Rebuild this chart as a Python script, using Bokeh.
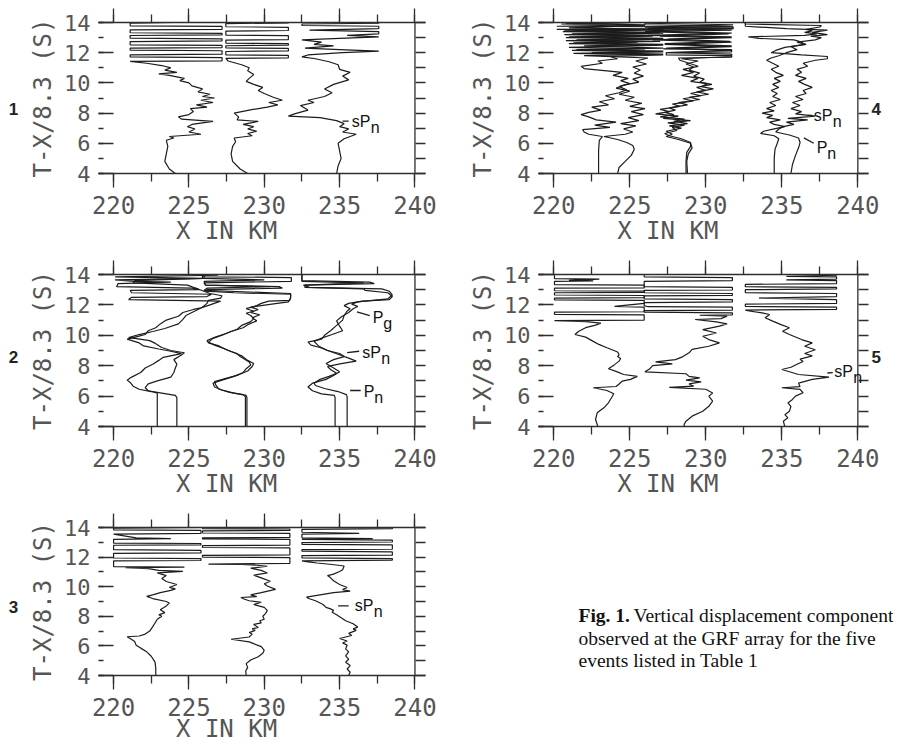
from bokeh.plotting import figure
from bokeh.models import Range1d, LinearAxis, SingleIntervalTicker, FixedTicker, Span, Label
from bokeh.layouts import row, column
from bokeh.embed import file_html
from bokeh.resources import INLINE

# ---------------- data: (time T-X/8.3 in s, position X in km) ----------------
X_TICKS = [220, 225, 230, 235, 240]
Y_TICKS = [4, 6, 8, 10, 12, 14]
PANEL_NUMBERS = ["1", "2", "3", "4", "5"]
PANEL_NUMBER_T = [8.3, 8.55, 8.6, 8.25, 8.6]

P1_A = [(4.0,224.1),(4.3,223.7),(4.8,223.4),(5.3,223.5),(5.8,223.6),(6.2,223.5),(6.35,224.0),(6.45,223.7),(6.6,225.8),(6.75,225.0),(6.95,225.4),(7.1,224.9),(7.25,225.2),(7.45,226.6),(7.6,224.5),(7.75,224.3),(7.9,225.0),(8.1,225.3),(8.3,225.1),(8.4,226.2),(8.55,225.5),(8.7,226.6),(8.85,225.8),(9.0,226.7),(9.1,225.9),(9.25,226.4),(9.4,225.6),(9.6,225.9),(9.8,225.2),(10.0,225.0),(10.15,224.4),(10.3,224.7),(10.5,223.7),(10.6,223.0),(10.7,224.2),(10.85,223.4),(11.0,223.8),(11.15,223.2),(11.3,222.2),(11.42,221.1),(11.46,227.2),(11.68,227.2),(11.72,221.1),(11.86,221.1),(11.9,227.2),(12.13,227.2),(12.17,221.1),(12.3,221.1),(12.34,227.2),(12.48,227.2),(12.52,221.1),(12.74,221.1),(12.78,227.2),(12.92,227.2),(12.96,221.1),(13.14,221.1),(13.18,227.2),(13.28,227.2),(13.32,221.1),(13.51,221.1),(13.55,227.2),(13.74,227.2),(13.78,221.1),(13.96,221.1),(14.0,224.0)]
P1_B = [(4.0,228.9),(4.3,228.4),(4.8,227.9),(5.3,227.8),(5.8,227.9),(6.1,228.1),(6.35,228.0),(6.5,229.2),(6.65,228.9),(6.8,229.5),(6.95,228.9),(7.1,229.3),(7.25,228.6),(7.45,229.6),(7.55,228.2),(7.75,228.3),(8.0,228.0),(8.2,229.0),(8.4,230.2),(8.55,230.9),(8.7,230.3),(8.85,231.2),(9.05,230.6),(9.3,230.0),(9.5,229.6),(9.7,229.9),(9.9,229.3),(10.1,228.8),(10.3,229.0),(10.55,229.3),(10.8,228.9),(11.0,229.0),(11.2,228.5),(11.45,227.6),(11.62,227.45),(11.66,231.6),(11.82,231.6),(11.86,227.45),(12.08,227.45),(12.12,231.6),(12.28,231.6),(12.32,227.45),(12.46,227.45),(12.5,231.6),(12.6,231.6),(12.64,227.45),(12.83,227.45),(12.87,231.6),(13.13,231.6),(13.17,227.45),(13.43,227.45),(13.47,231.6),(13.68,231.6),(13.72,227.45),(13.93,227.45),(13.97,231.6),(14.0,231.6)]
P1_C = [(4.0,234.8),(4.5,234.9),(5.0,235.1),(5.5,235.0),(6.0,234.9),(6.3,235.3),(6.6,236.1),(6.75,235.2),(6.95,235.6),(7.1,235.0),(7.3,235.3),(7.5,234.8),(7.7,233.7),(7.8,231.6),(7.95,232.0),(8.2,232.9),(8.5,232.4),(8.7,233.3),(8.85,232.9),(9.1,234.0),(9.35,234.5),(9.6,234.0),(9.9,234.6),(10.2,235.6),(10.45,235.2),(10.7,235.7),(10.9,235.0),(11.2,234.9),(11.4,234.3),(11.6,233.4),(11.72,232.5),(11.85,232.9),(12.0,235.2),(12.1,237.6),(12.2,235.0),(12.3,232.7),(12.45,234.6),(12.55,233.3),(12.7,233.8),(12.85,232.5),(12.95,235.0),(13.05,237.6),(13.15,235.5),(13.25,237.6),(13.4,237.6),(13.5,233.0),(13.6,237.6),(13.75,237.6),(13.8,232.5),(13.9,232.5),(13.95,237.6),(14.0,237.6)]

P2_A1 = [(4.0,222.9),(6.2,222.9),(6.3,222.5),(6.45,221.7),(6.65,221.3),(6.9,221.1),(7.05,220.9),(7.25,221.2),(7.55,221.8),(7.85,222.1),(8.1,222.6),(8.35,223.0),(8.55,223.3),(8.8,224.5),(8.95,223.8),(9.1,223.0),(9.3,222.0),(9.5,221.7),(9.75,220.9),(9.9,221.5),(10.05,222.1),(10.3,222.3),(10.5,222.8),(10.75,223.1),(11.0,223.5),(11.25,224.3),(11.5,224.6),(11.7,225.3),(11.8,225.8),(12.0,226.4),(12.25,227.1),(12.35,221.0),(12.5,221.2),(12.55,226.2),(12.7,226.5),(12.8,221.2),(12.95,221.1),(13.0,225.7),(13.1,225.2),(13.2,220.2),(13.4,220.3),(13.5,223.8),(13.55,221.4),(13.65,220.1),(13.75,226.0),(13.85,220.1),(13.95,226.9),(14.0,226.9)]
P2_A2 = [(4.0,224.2),(5.9,224.2),(6.05,224.1),(6.2,223.2),(6.35,222.3),(6.55,222.1),(6.8,222.3),(7.0,222.9),(7.25,223.8),(7.55,224.0),(7.85,224.1),(8.1,224.2),(8.4,224.0),(8.7,224.5),(8.85,224.7),(9.0,223.8),(9.2,223.2),(9.45,222.8),(9.65,222.4),(9.8,221.4),(9.85,221.0),(10.05,221.7),(10.25,222.6),(10.45,223.4),(10.75,224.3),(11.05,224.6),(11.3,224.8),(11.6,225.4),(11.85,225.9),(12.1,226.2),(12.3,226.3),(12.45,227.1),(12.6,227.2),(12.75,226.4),(12.9,226.0),(13.05,225.6),(13.15,225.3),(13.3,224.9),(13.45,221.3),(13.6,221.4),(13.75,225.9),(13.9,225.9),(14.0,225.9)]
P2_B1 = [(4.0,228.85),(5.9,228.85),(6.05,228.8),(6.2,228.0),(6.4,227.2),(6.6,226.7),(6.85,226.6),(7.05,227.2),(7.3,228.0),(7.55,228.6),(7.8,228.8),(8.05,229.1),(8.25,229.0),(8.6,228.4),(8.8,228.2),(9.0,227.6),(9.3,227.0),(9.5,226.3),(9.65,226.2),(9.9,226.8),(10.1,227.4),(10.4,228.2),(10.65,228.5),(10.9,229.1),(11.1,229.3),(11.3,229.1),(11.45,228.8),(11.6,229.3),(11.75,228.8),(11.95,229.5),(12.1,229.8),(12.25,230.3),(12.3,231.7),(12.55,231.75),(12.75,231.75),(12.85,229.0),(12.95,226.0),(13.1,226.2),(13.2,230.4),(13.3,226.1),(13.45,226.0),(13.55,231.8),(13.8,231.8),(13.85,226.0),(14.0,226.0)]
P2_B2 = [(4.0,228.75),(5.95,228.75),(6.1,228.6),(6.25,227.7),(6.45,227.0),(6.7,226.8),(6.95,226.7),(7.15,227.4),(7.4,228.3),(7.65,228.9),(7.95,229.2),(8.15,229.3),(8.35,228.9),(8.65,228.5),(8.85,228.0),(9.1,227.4),(9.35,226.7),(9.55,226.3),(9.8,226.6),(10.0,227.2),(10.25,227.8),(10.5,228.6),(10.7,228.9),(10.95,229.5),(11.15,229.2),(11.35,229.7),(11.5,229.1),(11.7,229.6),(11.85,229.1),(12.05,230.5),(12.2,231.6),(12.45,231.75),(12.7,231.75),(12.8,228.0),(12.9,226.1),(13.0,226.2),(13.1,231.2),(13.2,231.0),(13.3,226.1),(13.55,226.0),(13.65,230.0),(13.75,226.0),(14.0,226.0)]
P2_C1 = [(4.0,234.7),(5.9,234.7),(6.05,234.65),(6.15,233.8),(6.35,233.2),(6.6,232.9),(6.85,233.2),(7.1,234.1),(7.35,234.6),(7.6,235.0),(7.85,234.6),(8.15,234.1),(8.4,234.6),(8.6,235.3),(8.8,235.0),(9.0,234.2),(9.2,233.7),(9.35,233.1),(9.55,232.9),(9.75,233.8),(10.0,234.0),(10.3,234.4),(10.65,234.8),(11.0,235.2),(11.3,235.3),(11.6,235.5),(11.75,235.7),(11.95,235.3),(12.1,235.6),(12.25,236.5),(12.35,238.3),(12.55,238.5),(12.8,238.2),(12.95,236.7),(13.05,236.6),(13.15,232.7),(13.3,232.7),(13.45,236.6),(13.55,232.5),(14.0,232.5)]
P2_C2 = [(4.0,235.5),(5.95,235.5),(6.1,235.45),(6.3,234.9),(6.5,234.0),(6.7,233.4),(6.85,233.3),(7.1,233.7),(7.3,234.3),(7.5,234.8),(7.75,234.4),(7.95,234.2),(8.15,235.2),(8.3,236.1),(8.5,235.6),(8.75,234.9),(9.0,234.2),(9.3,233.6),(9.6,233.3),(9.85,233.9),(10.05,234.5),(10.3,235.2),(10.6,235.0),(10.95,234.8),(11.2,235.1),(11.5,235.6),(11.75,235.9),(11.9,236.2),(12.05,235.8),(12.2,236.2),(12.4,238.2),(12.65,238.5),(12.9,238.3),(13.05,237.8),(13.15,233.0),(13.3,232.6),(13.4,237.3),(13.5,237.0),(13.6,232.5),(14.0,232.5)]

P3_A = [(4.0,222.8),(4.5,222.8),(4.9,222.75),(5.3,222.5),(5.6,222.2),(5.85,221.8),(6.05,221.5),(6.3,221.4),(6.5,221.1),(6.62,220.9),(6.67,221.7),(6.8,222.1),(7.0,222.4),(7.3,222.6),(7.55,222.75),(7.8,222.9),(8.0,223.2),(8.1,223.0),(8.25,223.4),(8.45,223.1),(8.7,223.5),(8.9,223.7),(9.0,223.5),(9.2,222.6),(9.35,222.2),(9.45,222.6),(9.6,223.1),(9.75,223.8),(9.85,224.1),(9.95,223.7),(10.15,224.2),(10.35,223.5),(10.55,223.2),(10.75,223.5),(10.93,222.9),(11.03,224.6),(11.1,223.0),(11.22,222.3),(11.28,220.8),(11.32,224.7),(11.36,220.0),(11.74,220.0),(11.77,225.8),(11.9,225.8),(11.94,220.0),(12.25,220.0),(12.28,225.8),(12.46,225.8),(12.5,220.0),(12.8,220.0),(12.83,225.8),(12.92,225.8),(12.95,220.0),(13.2,220.0),(13.25,223.8),(13.3,221.5),(13.55,220.0),(13.6,225.8),(13.8,225.8),(13.84,220.0),(13.96,220.0),(14.0,225.8)]
P3_B = [(4.0,228.8),(4.3,228.77),(4.55,228.9),(4.8,228.8),(5.05,229.1),(5.27,229.6),(5.5,229.9),(5.7,230.0),(5.95,229.8),(6.15,229.3),(6.27,229.0),(6.45,227.8),(6.6,229.0),(6.8,229.2),(6.9,229.0),(7.05,229.4),(7.15,229.2),(7.25,229.6),(7.45,229.3),(7.55,229.8),(7.7,229.7),(7.8,230.0),(8.0,229.9),(8.2,230.1),(8.4,230.2),(8.6,230.0),(8.8,229.3),(8.95,229.8),(9.05,229.0),(9.15,228.7),(9.27,228.45),(9.33,229.5),(9.45,229.1),(9.6,229.8),(9.82,230.75),(10.05,230.2),(10.2,230.0),(10.37,230.4),(10.6,229.8),(10.78,229.3),(10.93,230.2),(11.1,229.8),(11.25,229.1),(11.38,230.2),(11.45,229.5),(11.5,228.5),(11.53,226.3),(11.57,231.7),(11.97,231.7),(12.0,225.9),(12.12,225.9),(12.15,231.7),(12.62,231.7),(12.65,225.9),(12.78,225.9),(12.81,231.7),(13.2,231.7),(13.23,225.9),(13.3,225.9),(13.33,231.7),(13.6,231.7),(13.63,225.9),(13.77,225.9),(13.8,231.7),(13.9,231.7),(13.93,225.9),(14.0,225.9)]
P3_C = [(4.0,235.6),(4.22,235.7),(4.44,235.5),(4.67,235.7),(4.9,235.4),(5.1,235.6),(5.33,235.4),(5.6,235.6),(5.8,235.4),(6.05,235.5),(6.2,235.2),(6.33,235.5),(6.5,235.0),(6.7,235.8),(6.85,235.6),(7.05,236.1),(7.15,235.9),(7.27,236.2),(7.5,235.9),(7.7,235.4),(7.9,235.1),(8.1,234.8),(8.27,234.5),(8.4,234.6),(8.5,234.4),(8.6,234.1),(8.8,233.9),(9.05,233.4),(9.2,232.95),(9.3,232.8),(9.45,233.7),(9.6,234.6),(9.7,235.7),(9.8,235.2),(9.95,235.5),(10.15,235.0),(10.4,234.6),(10.6,234.4),(10.75,234.2),(10.85,234.6),(11.03,235.0),(11.15,235.2),(11.4,235.3),(11.5,234.5),(11.6,233.5),(11.7,232.8),(11.75,232.5),(11.8,238.5),(11.9,238.5),(11.95,232.5),(12.1,232.5),(12.13,238.5),(12.35,238.5),(12.4,232.5),(12.5,232.5),(12.53,238.5),(12.82,238.5),(12.86,232.5),(12.98,232.5),(13.02,238.5),(13.15,238.5),(13.2,232.5),(13.25,237.2),(13.3,232.5),(13.55,232.5),(13.6,236.3),(13.68,232.5),(13.88,232.5),(13.92,238.5),(14.0,238.5)]

P4_A1 = [(4.0,222.95),(5.5,222.95),(6.2,223.0),(6.45,223.2),(6.6,222.3),(6.75,222.0),(6.9,221.9),(7.05,223.7),(7.2,222.7),(7.4,224.1),(7.55,222.8),(7.75,222.3),(7.9,221.8),(8.05,222.3),(8.2,223.1),(8.4,222.5),(8.55,223.6),(8.75,223.0),(8.95,224.0),(9.15,223.4),(9.35,224.3),(9.55,224.8),(9.75,224.3),(9.95,225.0),(10.15,224.4),(10.3,224.9),(10.5,223.9),(10.7,224.5),(10.85,223.0),(10.95,222.0),(11.1,221.8),(11.3,223.2),(11.45,222.9),(11.6,224.2),(11.75,223.7),(11.85,227.2),(11.95,221.3),(12.05,227.2),(12.15,221.2),(12.25,226.0),(12.35,221.0),(12.5,227.2),(12.6,221.0),(12.7,225.5),(12.8,220.8),(12.9,227.2),(13.0,220.8),(13.1,226.5),(13.2,220.7),(13.3,227.2),(13.4,220.6),(13.5,226.0),(13.55,220.2),(13.6,231.8),(13.7,231.8),(13.75,220.2),(13.85,226.0),(13.95,220.8),(14.0,225.0)]
P4_A2 = [(4.0,224.2),(4.4,224.3),(4.8,224.7),(5.2,225.1),(5.6,225.3),(5.85,225.2),(6.05,224.8),(6.25,224.2),(6.45,223.3),(6.6,224.7),(6.75,225.2),(6.95,224.6),(7.15,225.4),(7.3,224.4),(7.5,225.6),(7.7,224.9),(7.9,225.9),(8.1,225.1),(8.3,226.0),(8.45,225.0),(8.65,225.8),(8.85,224.7),(9.05,225.3),(9.25,224.3),(9.45,225.0),(9.65,224.1),(9.85,224.6),(10.05,225.6),(10.25,225.2),(10.45,225.9),(10.65,225.3),(10.85,225.7),(11.05,225.2),(11.25,226.1),(11.45,225.4),(11.65,226.2),(11.8,222.0),(11.9,227.2),(12.0,222.5),(12.1,227.2),(12.2,221.5),(12.3,227.2),(12.45,222.0),(12.55,227.2),(12.65,221.3),(12.75,227.0),(12.85,221.5),(12.95,227.2),(13.05,221.0),(13.15,227.0),(13.25,221.2),(13.35,227.0),(13.45,220.7),(13.55,227.2),(13.65,221.0),(13.8,226.0),(13.9,220.5),(14.0,226.0)]
P4_B1 = [(4.0,228.7),(4.8,228.7),(5.4,228.75),(5.8,229.0),(6.05,229.0),(6.3,228.4),(6.5,227.6),(6.65,227.3),(6.85,228.1),(7.05,227.8),(7.2,228.6),(7.35,227.5),(7.5,229.0),(7.65,227.2),(7.8,228.2),(7.95,226.7),(8.1,227.6),(8.25,227.0),(8.45,228.3),(8.6,227.8),(8.8,229.2),(8.95,228.5),(9.15,229.7),(9.3,229.0),(9.5,230.0),(9.7,229.4),(9.9,230.4),(10.05,229.6),(10.25,229.9),(10.45,229.2),(10.65,229.6),(10.85,228.9),(11.05,229.2),(11.25,228.7),(11.45,229.5),(11.6,228.4),(11.75,231.7),(11.9,231.7),(12.0,227.5),(12.15,231.7),(12.3,227.4),(12.45,231.7),(12.6,227.3),(12.75,231.6),(12.9,227.5),(13.05,231.7),(13.15,226.2),(13.3,231.7),(13.45,226.0),(13.6,231.8),(13.7,226.0),(13.85,231.8),(13.95,226.0),(14.0,229.0)]
P4_B2 = [(4.0,228.8),(4.8,228.75),(5.3,228.85),(5.7,229.1),(6.0,229.0),(6.25,228.2),(6.45,227.4),(6.6,227.8),(6.8,227.4),(7.0,228.4),(7.15,227.6),(7.3,228.8),(7.45,227.9),(7.6,228.6),(7.75,227.0),(7.9,227.9),(8.05,227.3),(8.2,228.0),(8.35,227.6),(8.55,228.8),(8.7,228.2),(8.9,229.6),(9.05,228.9),(9.25,230.2),(9.4,229.4),(9.6,230.5),(9.75,229.7),(9.95,230.1),(10.1,229.0),(10.3,229.5),(10.5,228.4),(10.7,229.2),(10.9,228.5),(11.1,229.5),(11.3,228.9),(11.5,228.3),(11.65,228.2),(11.7,231.7),(11.8,231.7),(11.85,227.4),(12.0,227.4),(12.05,231.7),(12.2,231.7),(12.25,227.2),(12.4,231.7),(12.55,227.3),(12.7,231.7),(12.85,226.5),(13.0,231.7),(13.1,227.0),(13.25,231.5),(13.4,226.0),(13.5,231.7),(13.6,226.2),(13.75,231.8),(13.85,226.0),(14.0,226.0)]
P4_C1 = [(4.0,234.5),(5.0,234.5),(5.6,234.55),(6.0,234.7),(6.3,234.8),(6.5,234.5),(6.65,233.6),(6.8,233.8),(6.95,234.5),(7.1,235.2),(7.25,234.5),(7.4,234.2),(7.55,234.9),(7.7,234.0),(7.85,234.4),(8.0,233.7),(8.15,234.5),(8.3,234.0),(8.5,234.6),(8.7,234.2),(8.9,234.9),(9.1,234.4),(9.3,234.7),(9.5,234.3),(9.7,234.8),(9.9,234.4),(10.1,234.9),(10.3,234.5),(10.5,235.1),(10.7,234.6),(10.9,234.3),(11.1,234.8),(11.3,234.4),(11.5,234.0),(11.65,234.3),(11.8,234.8),(12.0,235.3),(12.2,236.0),(12.4,235.6),(12.55,236.5),(12.7,236.3),(12.85,235.8),(12.95,233.5),(13.05,232.8),(13.15,236.5),(13.25,237.3),(13.35,236.5),(13.45,237.0),(13.55,236.6),(13.7,237.5),(13.8,237.6),(13.9,232.6),(14.0,232.6)]
P4_C2 = [(4.0,235.6),(4.6,235.7),(5.2,235.9),(5.7,236.1),(6.05,236.2),(6.35,236.1),(6.55,235.5),(6.75,234.6),(6.95,234.8),(7.1,235.1),(7.25,235.8),(7.4,235.3),(7.55,236.7),(7.65,235.4),(7.8,237.2),(7.95,235.9),(8.1,236.3),(8.3,235.6),(8.5,236.2),(8.7,235.7),(8.9,236.4),(9.1,235.9),(9.3,236.6),(9.5,236.4),(9.7,237.0),(9.9,236.5),(10.1,236.1),(10.3,236.6),(10.5,235.9),(10.7,236.3),(10.9,236.0),(11.1,236.7),(11.3,236.4),(11.5,237.2),(11.6,238.0),(11.75,238.0),(11.85,236.3),(12.0,234.3),(12.15,234.6),(12.35,235.2),(12.55,236.6),(12.7,236.0),(12.85,237.2),(13.0,237.6),(13.1,236.9),(13.2,238.0),(13.35,237.0),(13.5,238.0),(13.6,235.3),(13.7,233.5),(13.75,232.6),(14.0,232.6)]

P5_A = [(4.0,222.9),(4.13,222.86),(4.46,222.75),(4.9,222.86),(5.23,223.3),(5.56,223.6),(5.89,223.8),(6.15,223.95),(6.37,223.5),(6.55,222.6),(6.63,224.1),(6.8,224.3),(6.98,224.5),(7.1,225.05),(7.3,225.5),(7.42,224.6),(7.63,224.1),(7.8,223.6),(8.07,224.0),(8.3,224.3),(8.47,224.4),(8.6,224.2),(8.73,224.3),(8.9,224.2),(9.18,223.5),(9.4,222.97),(9.6,222.6),(9.88,222.1),(10.05,221.4),(10.27,221.65),(10.5,222.1),(10.67,222.75),(10.8,223.1),(10.9,222.1),(10.97,220.05),(11.0,225.95),(11.35,225.95),(11.38,220.05),(11.52,220.05),(11.55,225.95),(11.85,225.95),(11.9,224.0),(12.1,225.95),(12.3,225.95),(12.33,220.05),(12.45,220.05),(12.48,225.95),(12.62,225.95),(12.65,220.05),(12.8,220.05),(12.83,225.95),(12.9,225.95),(12.93,220.05),(13.1,220.05),(13.12,225.95),(13.3,225.95),(13.33,220.05),(13.55,220.05),(13.58,222.6),(13.62,221.0),(13.7,223.0),(13.73,220.05),(14.0,220.05)]
P5_B = [(4.0,228.6),(4.13,228.57),(4.35,228.7),(4.68,229.1),(5.0,229.8),(5.33,230.2),(5.67,230.45),(6.0,230.2),(6.2,230.45),(6.45,230.0),(6.58,227.6),(6.65,229.2),(6.8,228.9),(6.94,229.7),(7.05,228.7),(7.2,229.6),(7.3,228.9),(7.47,228.7),(7.6,226.0),(7.78,226.3),(8.0,226.5),(8.12,227.8),(8.25,226.7),(8.4,228.0),(8.6,228.5),(8.85,228.9),(9.07,229.1),(9.28,230.2),(9.5,230.9),(9.72,230.2),(9.94,229.8),(10.15,230.7),(10.37,229.8),(10.6,230.9),(10.75,231.4),(10.88,230.7),(11.04,229.3),(11.1,231.0),(11.26,231.4),(11.32,229.6),(11.35,231.75),(11.48,231.75),(11.52,225.95),(11.62,225.95),(11.66,231.75),(11.85,231.75),(11.88,226.2),(11.95,225.95),(12.15,225.95),(12.2,231.75),(12.35,231.75),(12.4,225.95),(12.6,225.95),(12.63,231.75),(12.75,231.75),(12.8,225.95),(12.95,225.95),(12.98,231.75),(13.15,231.75),(13.2,225.95),(13.55,225.95),(13.6,231.75),(13.8,231.75),(13.85,225.95),(14.0,225.95)]
P5_C = [(4.0,235.2),(4.13,235.16),(4.35,235.1),(4.57,235.4),(4.78,235.2),(5.0,235.5),(5.33,235.6),(5.55,235.4),(5.78,235.7),(6.0,235.9),(6.22,236.4),(6.44,236.2),(6.55,235.0),(6.62,236.2),(6.85,236.1),(7.1,237.0),(7.25,238.1),(7.42,236.1),(7.6,235.5),(7.75,235.0),(7.9,235.6),(8.1,236.0),(8.28,236.4),(8.43,236.2),(8.65,237.0),(8.8,236.5),(9.05,237.2),(9.28,236.5),(9.5,237.0),(9.72,236.3),(10.05,235.5),(10.27,235.05),(10.5,235.5),(10.7,234.95),(10.93,234.4),(11.15,233.9),(11.37,234.2),(11.48,233.7),(11.6,232.85),(11.66,232.6),(11.7,238.6),(11.85,238.6),(11.9,232.6),(12.05,232.6),(12.1,238.6),(12.35,238.6),(12.45,233.5),(12.55,238.6),(12.75,238.6),(12.8,232.6),(13.0,232.6),(13.05,238.6),(13.15,238.6),(13.2,232.6),(13.35,232.6),(13.4,238.6),(13.6,238.6),(13.65,235.3),(13.7,238.6),(13.85,238.6),(13.88,235.3),(13.95,238.6),(14.0,238.6)]

# phase annotations: (main text, subscript, x, t) and leader lines (x0, t0, x1, t1)
P1_PHASES = [("sP", "n", 235.8, 7.47)]
P1_LEADERS = [(235.2, 7.47, 235.6, 7.47)]
P2_PHASES = [("P", "g", 237.2, 11.15), ("sP", "n", 236.5, 8.9), ("P", "n", 236.6, 6.3)]
P2_LEADERS = [(236.15, 11.54, 237.0, 11.3), (235.5, 8.86, 236.3, 8.95), (235.7, 6.37, 236.4, 6.37)]
P3_PHASES = [("sP", "n", 236.0, 8.75)]
P3_LEADERS = [(234.9, 8.71, 235.6, 8.71)]
P4_PHASES = [("sP", "n", 237.1, 7.85), ("P", "n", 237.3, 5.75)]
P4_LEADERS = [(236.7, 7.85, 237.0, 7.85), (236.45, 6.36, 237.1, 6.0)]
P5_PHASES = [("sP", "n", 238.45, 7.6)]
P5_LEADERS = [(238.0, 7.52, 238.35, 7.55)]

CAPTION_BOLD = "Fig. 1."
CAPTION_LINES = ["Vertical displacement component",
                 "observed at the GRF array for the five",
                 "events listed in Table 1"]

# ---------------- styling / geometry ----------------
INK = "#1c1c1c"
AXC = "#2e2e2e"
TXC = "#555555"
MONO = "DejaVu Sans Mono"
SANS = "Liberation Sans"
SERIF = "Liberation Serif"
FRAME_W = 330
XR = (219.0, 240.7)
NUM_W = 26
# top border, frame height, bottom border, standoff of the "X IN KM" line
ROWS = [(22, 151, 80, 0), (21, 152, 81, 0), (20, 150, 68, -4)]


def common_axes(p, xlab_standoff):
    kw = dict(axis_line_color=AXC, major_tick_line_color=AXC, minor_tick_line_color=AXC,
              axis_line_width=1.3, major_tick_line_width=1.3, minor_tick_line_width=1.3)
    below = LinearAxis(ticker=SingleIntervalTicker(interval=5, num_minor_ticks=2),
                       major_tick_out=14, major_tick_in=0, minor_tick_out=8, minor_tick_in=0,
                       major_label_text_font=MONO, major_label_text_font_size="24px",
                       major_label_text_color=TXC, major_label_standoff=8, **kw)
    p.add_layout(below, "below")
    xlab = LinearAxis(ticker=FixedTicker(ticks=[227.5]),
                      major_label_overrides={227.5: "X IN KM"},
                      major_tick_out=0, major_tick_in=0, minor_tick_out=0, minor_tick_in=0,
                      axis_line_color=None, major_tick_line_color=None, minor_tick_line_color=None,
                      major_label_text_font=MONO, major_label_text_font_size="24px",
                      major_label_text_color=TXC, major_label_standoff=xlab_standoff)
    p.add_layout(xlab, "below")
    above = LinearAxis(ticker=SingleIntervalTicker(interval=5, num_minor_ticks=2),
                       major_tick_out=14, major_tick_in=0, minor_tick_out=8, minor_tick_in=0,
                       major_label_overrides={v: "" for v in X_TICKS},
                       major_label_text_font_size="1px", major_label_standoff=0, **kw)
    p.add_layout(above, "above")
    left = LinearAxis(ticker=SingleIntervalTicker(interval=2, num_minor_ticks=2),
                      major_tick_in=15, major_tick_out=0, minor_tick_in=5, minor_tick_out=0,
                      axis_line_color=None, major_tick_line_color=AXC, minor_tick_line_color=AXC,
                      major_tick_line_width=1.3, minor_tick_line_width=1.3,
                      major_label_text_font=MONO, major_label_text_font_size="22px",
                      major_label_text_color=TXC, major_label_standoff=8,
                      axis_label="T-X/8.3 (S)", axis_label_text_font=MONO,
                      axis_label_text_font_size="24px", axis_label_text_color=TXC,
                      axis_label_text_font_style="normal", axis_label_standoff=4)
    p.add_layout(left, "left")
    right = LinearAxis(ticker=SingleIntervalTicker(interval=1, num_minor_ticks=0),
                       major_tick_in=10, major_tick_out=0, minor_tick_in=0, minor_tick_out=0,
                       axis_line_color=None, major_tick_line_color=AXC, major_tick_line_width=1.3,
                       major_label_overrides={v: "" for v in range(4, 15)},
                       major_label_text_font_size="1px", major_label_standoff=0)
    p.add_layout(right, "right")
    p.add_layout(Span(location=240, dimension="height", line_color=AXC, line_width=1.3))


def make_panel(traces, rowgeom, bl, br, phases, leaders, right_num=None):
    top, fh, bottom, xls = rowgeom
    p = figure(width=bl + FRAME_W + br, height=top + fh + bottom,
               x_range=Range1d(*XR), y_range=Range1d(4, 14),
               output_backend="svg", toolbar_location=None,
               x_axis_location=None, y_axis_location=None,
               min_border_left=bl, min_border_right=br,
               min_border_top=top, min_border_bottom=bottom)
    p.outline_line_color = None
    p.grid.visible = False
    common_axes(p, xls)
    if right_num is not None:
        txt, t = right_num
        num_ax = LinearAxis(ticker=FixedTicker(ticks=[t]), major_label_overrides={t: txt},
                            major_tick_out=0, major_tick_in=0, minor_tick_out=0, minor_tick_in=0,
                            axis_line_color=None, major_tick_line_color=None,
                            minor_tick_line_color=None, major_label_text_font=SANS,
                            major_label_text_font_size="17px", major_label_text_font_style="bold",
                            major_label_text_color="#222222", major_label_standoff=3)
        p.add_layout(num_ax, "right")

    for tr in traces:
        p.line([q[1] for q in tr], [q[0] for q in tr], line_color=INK, line_width=1.2)
    for (x0, y0, x1, y1) in leaders:
        p.segment(x0=[x0], y0=[y0], x1=[x1], y1=[y1], line_color=INK, line_width=1.3)
    for (main, sub, x, y) in phases:
        p.add_layout(Label(x=x, y=y, text=main, text_font=SANS, text_font_size="16px",
                           text_color="#111111", text_baseline="middle", text_align="left"))
        w = 10.5 if main == "P" else 19.0
        p.add_layout(Label(x=x, y=y, x_offset=w, y_offset=-6, text=sub, text_font=SANS,
                           text_font_size="16px", text_color="#111111",
                           text_baseline="middle", text_align="left"))
    return p


def number_fig(txt, t, rowgeom):
    top, fh, bottom, _ = rowgeom
    f = figure(width=NUM_W, height=top + fh + bottom, x_range=Range1d(0, NUM_W),
               y_range=Range1d(4, 14), output_backend="svg", toolbar_location=None,
               x_axis_location=None, y_axis_location=None,
               min_border_left=0, min_border_right=0, min_border_top=top, min_border_bottom=bottom)
    f.outline_line_color = None
    f.grid.visible = False
    f.add_layout(Label(x=13, y=t, text=txt, text_font=SANS, text_font_size="17px",
                       text_font_style="bold", text_color="#222222",
                       text_align="center", text_baseline="middle"))
    return f


LB, LR = 69, 41      # left-column figure borders  (frame at x = 26 + 69 = 95)
RB, RR = 72, 30      # right-column figure borders (frame at x = 466 + 72 = 538)

n1 = number_fig(PANEL_NUMBERS[0], PANEL_NUMBER_T[0], ROWS[0])
n2 = number_fig(PANEL_NUMBERS[1], PANEL_NUMBER_T[1], ROWS[1])
n3 = number_fig(PANEL_NUMBERS[2], PANEL_NUMBER_T[2], ROWS[2])
f1 = make_panel([P1_A, P1_B, P1_C], ROWS[0], LB, LR, P1_PHASES, P1_LEADERS)
f2 = make_panel([P2_A1, P2_A2, P2_B1, P2_B2, P2_C1, P2_C2], ROWS[1], LB, LR, P2_PHASES, P2_LEADERS)
f3 = make_panel([P3_A, P3_B, P3_C], ROWS[2], LB, LR, P3_PHASES, P3_LEADERS)
f4 = make_panel([P4_A1, P4_A2, P4_B1, P4_B2, P4_C1, P4_C2], ROWS[0], RB, RR, P4_PHASES, P4_LEADERS,
                right_num=(PANEL_NUMBERS[3], PANEL_NUMBER_T[3]))
f5 = make_panel([P5_A, P5_B, P5_C], ROWS[1], RB, RR, P5_PHASES, P5_LEADERS,
                right_num=(PANEL_NUMBERS[4], PANEL_NUMBER_T[4]))

# caption panel, frame aligned with panel 3 (y in panel-3 time units, x in pixels)
top3, fh3, bot3, _ = ROWS[2]
CAP_W = RB + FRAME_W + RR
cap = figure(width=CAP_W, height=top3 + fh3 + bot3, x_range=Range1d(0, CAP_W),
             y_range=Range1d(4, 14), output_backend="svg", toolbar_location=None,
             x_axis_location=None, y_axis_location=None,
             min_border_left=0, min_border_right=0, min_border_top=top3, min_border_bottom=bot3)
cap.outline_line_color = None
cap.grid.visible = False
CAP_X = 112
CAP_T = [8.07, 6.53, 5.0]
cap.add_layout(Label(x=CAP_X, y=CAP_T[0], text=CAPTION_BOLD, text_font=SERIF, text_font_size="19.5px",
                     text_font_style="bold", text_color="#111111", text_baseline="alphabetic"))
cap.add_layout(Label(x=CAP_X, y=CAP_T[0], x_offset=55, text=CAPTION_LINES[0], text_font=SERIF,
                     text_font_size="19.5px", text_color="#111111", text_baseline="alphabetic"))
cap.add_layout(Label(x=CAP_X, y=CAP_T[1], text=CAPTION_LINES[1], text_font=SERIF,
                     text_font_size="19.5px", text_color="#111111", text_baseline="alphabetic"))
cap.add_layout(Label(x=CAP_X, y=CAP_T[2], text=CAPTION_LINES[2], text_font=SERIF,
                     text_font_size="19.5px", text_color="#111111", text_baseline="alphabetic"))

layout = column(row(n1, f1, f4), row(n2, f2, f5), row(n3, f3, cap))
open("out.html", "w").write(file_html(layout, INLINE))
